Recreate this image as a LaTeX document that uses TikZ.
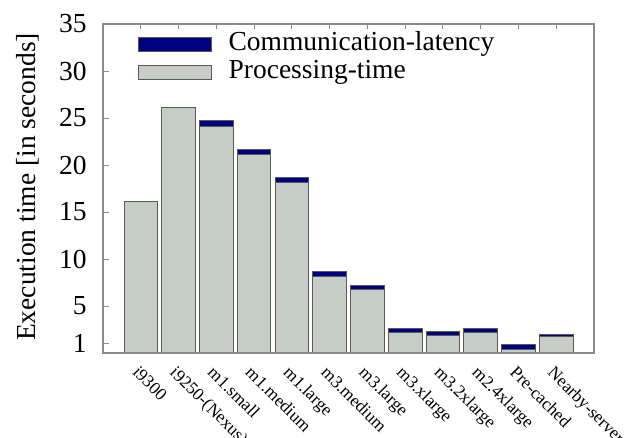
\documentclass[tikz,border=0pt]{standalone}
\usepackage{fontspec}
\setmainfont{Liberation Serif}
\definecolor{procgray}{HTML}{C6CDC6}
\definecolor{commblue}{HTML}{000080}
\definecolor{edgegray}{HTML}{5A5A5A}
\definecolor{framegray}{HTML}{8A8A8A}
\tikzset{
  procbar/.style={fill=procgray,draw=edgegray,line width=0.9pt},
  commbar/.style={fill=commblue,draw=edgegray,line width=0.9pt},
  frameline/.style={draw=framegray,line width=1.1pt},
  tickline/.style={draw=framegray,line width=0.9pt},
  bigtext/.style={font=\fontsize{27.5}{30}\selectfont,inner sep=0pt},
  cattext/.style={font=\fontsize{17.5}{20}\selectfont,inner sep=0pt,rotate=-45,anchor=north west},
}
\begin{document}
\begin{tikzpicture}[x=1pt,y=1pt]
\useasboundingbox (0,0) rectangle (632,438);
\node[bigtext,rotate=90] (ylabel) at (28,251) {Execution time [in seconds]};
\begin{scope}[shift={(103,85)},x=37.77pt,y=9.4pt]
  % bars: index, processing, communication
  \foreach \i/\p/\c/\name in {
    1/16.15/0/i9300,
    2/26.1/0/i9250-(Nexus),
    3/24.05/0.7/m1.small,
    4/21.1/0.6/m1.medium,
    5/18.1/0.55/m1.large,
    6/8.12/0.6/m3.medium,
    7/6.77/0.43/m3.large,
    8/2.16/0.43/m3.xlarge,
    9/1.88/0.42/m3.2xlarge,
    10/2.16/0.43/m2.4xlarge,
    11/0.43/0.49/Pre-cached,
    12/1.81/0.21/Nearby-server} {
    \draw[procbar] (\i-0.445,0) rectangle (\i+0.445,\p);
    \ifdim \c pt>0pt
      \draw[commbar] (\i-0.445,\p) rectangle (\i+0.445,\p+\c);
    \fi
    \node[cattext] (cat\i) at (\i-0.02,-1.25) {\name};
    \draw[tickline] (\i,35) -- ++(0,-0.55);
  }
  % frame
  \draw[frameline] (0,0) rectangle (13,35);
  % y ticks
  \foreach \v in {1,5,10,15,20,25,30,35} {
    \draw[tickline] (0,\v) -- ++(0.16,0);
    \node[bigtext,anchor=east] (ytick\v) at (-0.43,\v) {\v};
  }
  % legend
  \draw[commbar] (0.945,32.13) rectangle (2.867,33.59);
  \node[bigtext,anchor=west] (legcomm) at (3.32,32.86) {Communication-latency};
  \draw[procbar] (0.945,29.15) rectangle (2.867,30.6);
  \node[bigtext,anchor=west] (legproc) at (3.32,29.88) {Processing-time};
\end{scope}
\end{tikzpicture}
\end{document}
